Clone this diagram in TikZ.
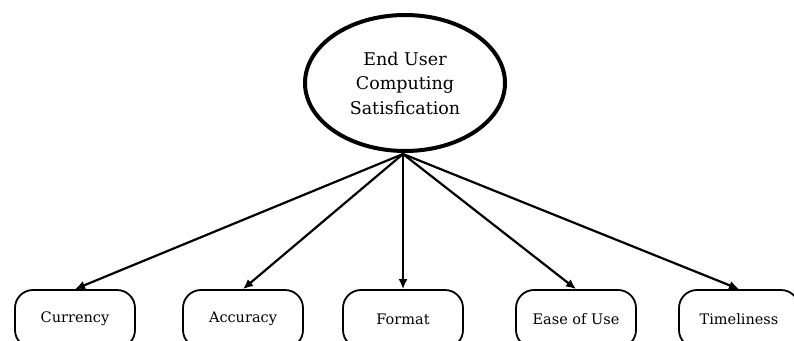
\documentclass[tikz,border=0pt]{standalone}
\usepackage{fontspec}
\setmainfont{DejaVu Serif}
\usetikzlibrary{shapes.geometric,arrows.meta}
\begin{document}
\begin{tikzpicture}[x=1pt,y=1pt,
  topnode/.style={ellipse,draw,line width=4pt,minimum width=200pt,minimum height=136pt,
    inner sep=0pt,align=center,font=\fontsize{17.5}{24.5}\selectfont},
  leaf/.style={draw,line width=1.8pt,rounded corners=18pt,minimum width=120pt,minimum height=58pt,
    inner sep=0pt,font=\fontsize{14.5}{17}\selectfont},
  link/.style={line width=2.2pt,-{Latex[length=10pt,width=9pt]}}]
\useasboundingbox (0,0) rectangle (794,-340);
\node[topnode] (eucs) at (405,-83) {End User\\Computing\\Satisfication};
\coordinate (hub) at (403,-154);
\node[leaf] (cur) at (75,-319) {Currency};
\node[leaf] (acc) at (243,-319) {Accuracy};
\node[leaf] (fmt) at (403,-319) {Format};
\node[leaf] (ease) at (576,-319) {Ease of Use};
\node[leaf] (time) at (739,-319) {Timeliness};
\foreach \t in {cur,acc,fmt,ease,time}
  \draw[link] (hub) -- (\t.north);
\end{tikzpicture}
\end{document}
